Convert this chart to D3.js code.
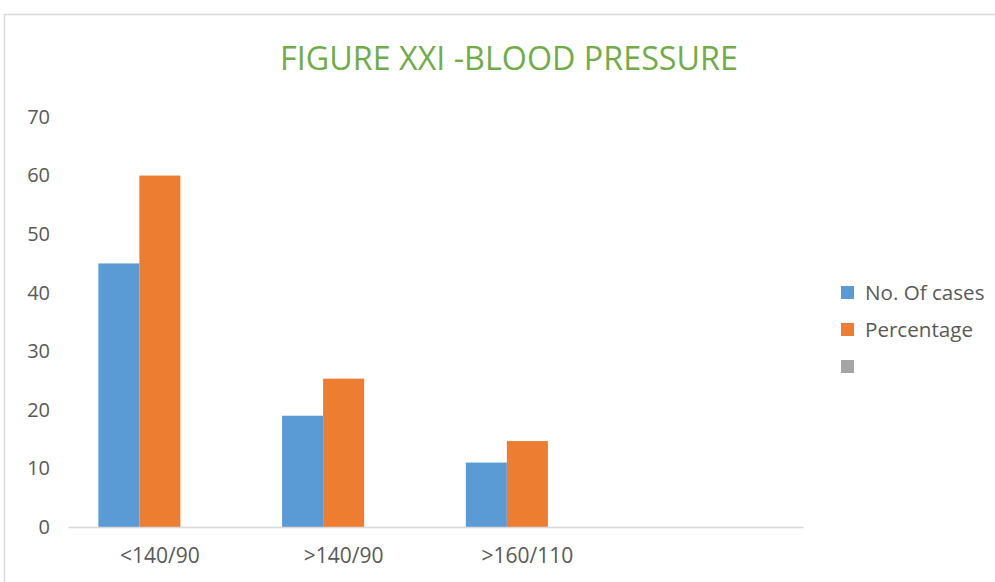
<!DOCTYPE html>
<html>
<head>
<meta charset="utf-8">
<script src="https://cdn.jsdelivr.net/npm/d3@7"></script>
<style>
  html, body { margin: 0; padding: 0; background: #fff; }
  svg { display: block; }
</style>
</head>
<body>
<svg id="chart" width="995" height="582"></svg>
<script>
const titleText = "FIGURE XXI -BLOOD PRESSURE";
const categories = ["<140/90", ">140/90", ">160/110", ""];
const seriesNames = ["No. Of cases", "Percentage", ""];
const casesValues = [45, 19, 11, null];
const percentValues = [60, 25.33, 14.67, null];
const blankValues = [null, null, null, null];
const seriesColors = ["#5B9BD5", "#ED7D31", "#A5A5A5"];
const yTicks = [0, 10, 20, 30, 40, 50, 60, 70];

const seriesValues = [casesValues, percentValues, blankValues];
const font = "'Open Sans', sans-serif";
const textColor = "#595959";

const svg = d3.select("#chart");
svg.append("rect").attr("width", 995).attr("height", 582).attr("fill", "#fff");
svg.append("rect")
  .attr("x", 4.5).attr("y", 14.5).attr("width", 1000).attr("height", 600)
  .attr("fill", "none").attr("stroke", "#d9d9d9").attr("stroke-width", 1.5);

const plotLeft = 68, plotRight = 803, plotTop = 117, plotBottom = 527;

const y = d3.scaleLinear().domain([0, 70]).range([plotBottom, plotTop]);
const x0 = d3.scaleBand().domain(categories).range([plotLeft, plotRight]).paddingInner(0).paddingOuter(0);
const x1 = d3.scaleBand().domain(seriesNames.map((d, i) => i)).range([0, x0.bandwidth()]).paddingInner(0).paddingOuter(0.74);

// title
svg.append("text")
  .attr("x", 509).attr("y", 70)
  .attr("text-anchor", "middle")
  .attr("font-family", font)
  .attr("font-size", 32)
  .attr("fill", "#70AD47")
  .attr("textLength", 458)
  .attr("lengthAdjust", "spacingAndGlyphs")
  .text(titleText);

// y axis labels
const yAxis = d3.axisLeft(y).tickValues(yTicks).tickSize(0).tickPadding(7);
const gy = svg.append("g").attr("transform", `translate(57,0)`).call(yAxis);
gy.select(".domain").remove();
gy.selectAll("text").attr("font-family", font).attr("font-size", 20).attr("fill", textColor);

// bars
const data = [];
categories.forEach((c, ci) => {
  seriesValues.forEach((vals, si) => {
    if (vals[ci] != null) data.push({ c, si, v: vals[ci] });
  });
});
svg.append("g").selectAll("rect").data(data).join("rect")
  .attr("x", d => x0(d.c) + x1(d.si))
  .attr("width", x1.bandwidth())
  .attr("y", d => y(d.v))
  .attr("height", d => y(0) - y(d.v))
  .attr("fill", d => seriesColors[d.si]);

// x axis
const xAxis = d3.axisBottom(x0).tickSize(0).tickPadding(21);
const gx = svg.append("g").attr("transform", `translate(0,${plotBottom})`).call(xAxis);
gx.select(".domain").attr("stroke", "#d9d9d9").attr("stroke-width", 1.5);
gx.selectAll("text").attr("font-family", font).attr("font-size", 21).attr("fill", textColor);

// legend
const legend = svg.append("g").attr("transform", "translate(841,286)");
seriesNames.forEach((name, i) => {
  const g = legend.append("g").attr("transform", `translate(0,${i * 37})`);
  g.append("rect").attr("width", 13).attr("height", 13).attr("fill", seriesColors[i]);
  g.append("text").attr("x", 24).attr("y", 6.5).attr("dy", "0.35em")
    .attr("font-family", font).attr("font-size", 20.6).attr("fill", textColor)
    .text(name);
});
</script>
</body>
</html>
